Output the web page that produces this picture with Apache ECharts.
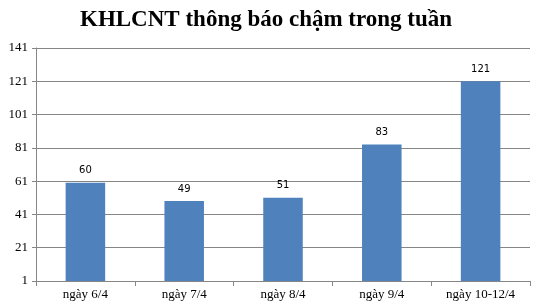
<!DOCTYPE html>
<html><head><meta charset="utf-8">
<script src="https://cdn.jsdelivr.net/npm/echarts@6/dist/echarts.min.js"></script>
<style>html,body{margin:0;padding:0;background:#fff}#c{width:541px;height:307px}</style>
</head><body><div id="c"></div>
<script>
const categories = ['ngày 6/4', 'ngày 7/4', 'ngày 8/4', 'ngày 9/4', 'ngày 10-12/4'];
const values = [60, 49, 51, 83, 121];
const axisBase = 1; // axis starts at 1
const yMax = 141;
const yInterval = 20;

const chart = echarts.init(document.getElementById('c'), null, {renderer: 'canvas'});
chart.setOption({
  animation: false,
  backgroundColor: '#fff',
  title: {
    text: 'KHLCNT thông báo chậm trong tuần',
    left: 75, top: 4,
    textStyle: {fontFamily: 'Liberation Serif', fontWeight: 'bold', fontSize: 23, color: '#000'}
  },
  grid: {left: 36, right: 11, top: 48, bottom: 26, containLabel: false},
  xAxis: {
    type: 'category', data: categories,
    axisLine: {lineStyle: {color: '#868686'}},
    axisTick: {show: true, length: 5, lineStyle: {color: '#868686'}},
    axisLabel: {fontFamily: 'Liberation Serif', fontSize: 13, color: '#000', margin: 7}
  },
  yAxis: {
    type: 'value', min: 0, max: yMax - axisBase, interval: yInterval,
    axisLine: {show: true, lineStyle: {color: '#868686'}},
    axisTick: {show: true, length: 4, lineStyle: {color: '#868686'}},
    splitLine: {lineStyle: {color: '#868686'}},
    axisLabel: {fontFamily: 'Liberation Serif', fontSize: 13, color: '#000', margin: 8,
      formatter: v => String(v + axisBase)}
  },
  series: [{
    type: 'bar',
    data: values.map(v => v - axisBase),
    barWidth: '40%',
    itemStyle: {color: '#4F81BD'},
    label: {show: true, position: 'top', distance: 7, fontFamily: 'DejaVu Sans', fontSize: 10, color: '#000',
      formatter: p => String(values[p.dataIndex])}
  }]
});
</script></body></html>
